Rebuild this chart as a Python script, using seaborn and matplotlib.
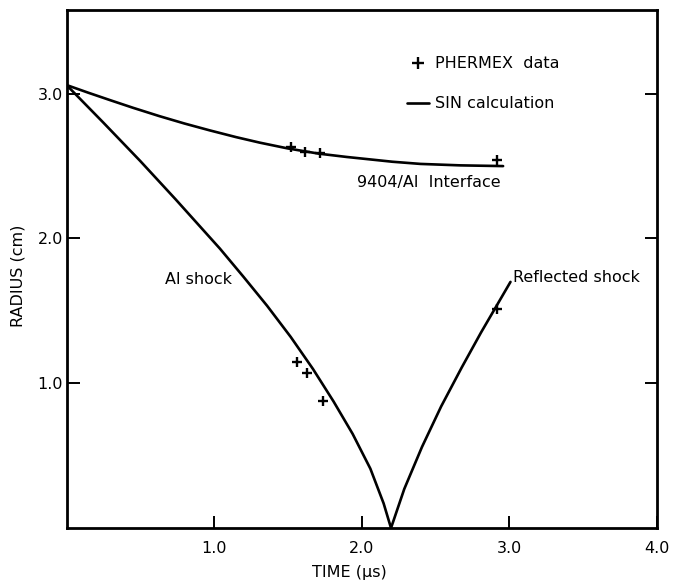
import matplotlib
matplotlib.use("Agg")
import matplotlib.pyplot as plt
from matplotlib.lines import Line2D
import seaborn as sns

# SIN calculation: 9404/Al interface radius vs time
interface_t = [0.0, 0.15, 0.30, 0.45, 0.63, 0.80, 0.97, 1.15, 1.31, 1.50,
               1.71, 1.90, 2.21, 2.40, 2.67, 2.96]
interface_r = [3.06, 3.006, 2.954, 2.903, 2.845, 2.794, 2.747, 2.70, 2.662,
               2.622, 2.586, 2.563, 2.53, 2.515, 2.505, 2.50]

# SIN calculation: Al shock front converging to the axis
shock_t = [0.0, 0.25, 0.50, 0.74, 1.04, 1.20, 1.36, 1.52, 1.67, 1.81,
           1.94, 2.06, 2.15, 2.20]
shock_r = [3.06, 2.80, 2.535, 2.27, 1.93, 1.735, 1.535, 1.32, 1.10, 0.875,
           0.65, 0.41, 0.17, 0.0]

# SIN calculation: reflected shock
refl_t = [2.20, 2.29, 2.41, 2.54, 2.68, 2.81, 2.93, 3.01]
refl_r = [0.0, 0.27, 0.56, 0.84, 1.11, 1.35, 1.56, 1.70]

# PHERMEX radiographic data
data_t = [1.52, 1.62, 1.72, 2.92, 1.56, 1.63, 1.74, 2.92]
data_r = [2.63, 2.60, 2.59, 2.54, 1.15, 1.07, 0.88, 1.51]

x_ticks = [1.0, 2.0, 3.0, 4.0]
x_ticklabels = ["1.0", "2.0", "3.0", "4.0"]
y_ticks = [1.0, 2.0, 3.0]
y_ticklabels = ["1.0", "2.0", "3.0"]

sns.set_style("white")
plt.rcParams["font.family"] = ["DejaVu Sans"]
for key in ["text.color", "axes.labelcolor", "xtick.color", "ytick.color"]:
    plt.rcParams[key] = "black"

fig = plt.figure(figsize=(6.85, 5.83), dpi=100)
ax = fig.add_axes([0.0971, 0.0943, 0.8613, 0.8890])

for t, r in [(interface_t, interface_r), (shock_t, shock_r), (refl_t, refl_r)]:
    sns.lineplot(x=t, y=r, ax=ax, color="black", linewidth=1.9, sort=False,
                 estimator=None)

sns.scatterplot(x=data_t, y=data_r, ax=ax, marker="+", color="black",
                s=60, linewidth=1.7, zorder=5)

ax.set_xlim(0, 4.0)
ax.set_ylim(0, 3.58)

ax.set_xticks(x_ticks)
ax.set_xticklabels(x_ticklabels)
ax.set_yticks(y_ticks)
ax.set_yticklabels(y_ticklabels)
ax.tick_params(axis="both", direction="in", length=9, width=1.4,
               labelsize=11.5)
ax.tick_params(axis="x", bottom=True, top=False, pad=9)
ax.tick_params(axis="y", left=True, right=True, pad=2.5)

for sp in ax.spines.values():
    sp.set_visible(True)
    sp.set_color("black")
    sp.set_linewidth(2.0)

ax.set_xlabel("TIME (μs)", fontsize=11.5)
ax.xaxis.set_label_coords(0.48, -0.072)
ax.set_ylabel("RADIUS (cm)", fontsize=11.5)
ax.yaxis.set_label_coords(-0.070, 0.486)

ax.text(1.97, 2.39, "9404/Al  Interface", fontsize=11.5, ha="left", va="center")
ax.text(0.67, 1.72, "Al shock", fontsize=11.5, ha="left", va="center")
ax.text(3.03, 1.73, "Reflected shock", fontsize=11.5, ha="left", va="center")

handles = [
    Line2D([], [], color="black", marker="+", linestyle="none",
           markersize=9, markeredgewidth=1.7),
    Line2D([], [], color="black", linewidth=1.9),
]
ax.legend(handles, ["PHERMEX  data", "SIN calculation"], frameon=False,
          loc="upper left", bbox_to_anchor=(0.577, 0.91), fontsize=11.5,
          borderpad=0, borderaxespad=0, handlelength=1.4, handletextpad=0.35,
          labelspacing=1.55)

fig.savefig("out.png", dpi=100)
